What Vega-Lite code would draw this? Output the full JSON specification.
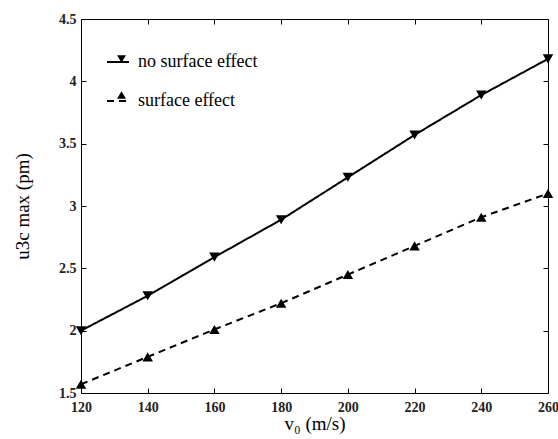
{
  "$schema": "https://vega.github.io/schema/vega-lite/v6.json",
  "autosize": "none",
  "width": 467,
  "height": 374,
  "padding": {"left": 81, "top": 19, "right": 10, "bottom": 46},
  "background": "white",
  "config": {
    "view": {"stroke": "black", "strokeWidth": 1},
    "font": "Liberation Serif"
  },
  "data": {
    "values": [
      {"v0": 120, "u": 2.0, "series": "no surface effect", "marker": "down"},
      {"v0": 140, "u": 2.28, "series": "no surface effect", "marker": "down"},
      {"v0": 160, "u": 2.59, "series": "no surface effect", "marker": "down"},
      {"v0": 180, "u": 2.89, "series": "no surface effect", "marker": "down"},
      {"v0": 200, "u": 3.23, "series": "no surface effect", "marker": "down"},
      {"v0": 220, "u": 3.57, "series": "no surface effect", "marker": "down"},
      {"v0": 240, "u": 3.89, "series": "no surface effect", "marker": "down"},
      {"v0": 260, "u": 4.18, "series": "no surface effect", "marker": "down"},
      {"v0": 120, "u": 1.57, "series": "surface effect", "marker": "up"},
      {"v0": 140, "u": 1.79, "series": "surface effect", "marker": "up"},
      {"v0": 160, "u": 2.01, "series": "surface effect", "marker": "up"},
      {"v0": 180, "u": 2.22, "series": "surface effect", "marker": "up"},
      {"v0": 200, "u": 2.45, "series": "surface effect", "marker": "up"},
      {"v0": 220, "u": 2.68, "series": "surface effect", "marker": "up"},
      {"v0": 240, "u": 2.91, "series": "surface effect", "marker": "up"},
      {"v0": 260, "u": 3.10, "series": "surface effect", "marker": "up"}
    ]
  },
  "resolve": {"axis": {"x": "independent", "y": "independent"}},
  "layer": [
    {
      "mark": {"type": "line", "color": "black", "strokeWidth": 2},
      "encoding": {
        "x": {"field": "v0", "type": "quantitative",
          "scale": {"domain": [120, 260], "nice": false, "zero": false},
          "axis": {"orient": "bottom", "values": [120,140,160,180,200,220,240,260], "title": "v₀ (m/s)",
            "grid": false, "domain": false, "tickSize": -5, "tickColor": "black", "labelPadding": 12, "labelFlush": false,
            "labelFont": "Liberation Serif", "labelFontWeight": "bold", "labelFontSize": 14, "labelColor": "#222",
            "titleFont": "Liberation Serif", "titleFontWeight": "normal", "titleFontSize": 19, "titleColor": "black", "titlePadding": 0}},
        "y": {"field": "u", "type": "quantitative",
          "scale": {"domain": [1.5, 4.5], "nice": false, "zero": false},
          "axis": {"orient": "left", "values": [1.5,2,2.5,3,3.5,4,4.5], "format": "~g", "title": "u3c max (pm)",
            "grid": false, "domain": false, "tickSize": -5, "tickColor": "black", "labelPadding": 10, "labelFlush": false,
            "labelFont": "Liberation Serif", "labelFontWeight": "bold", "labelFontSize": 14, "labelColor": "#222",
            "titleFont": "Liberation Serif", "titleFontWeight": "normal", "titleFontSize": 19, "titleColor": "black", "titlePadding": 26}},
        "strokeDash": {"field": "series", "type": "nominal",
          "scale": {"domain": ["no surface effect", "surface effect"], "range": [[1, 0], [7, 5]]},
          "legend": {"orient": "none", "legendX": 25, "legendY": 31, "title": null,
            "labelFont": "Liberation Serif", "labelFontSize": 18, "labelColor": "black", "labelLimit": 300,
            "symbolStrokeColor": "black", "symbolStrokeWidth": 2, "symbolSize": 484, "symbolType": "stroke",
            "rowPadding": 18, "labelOffset": 8}}
      }
    },
    {
      "mark": {"type": "point", "filled": true, "color": "black", "opacity": 1, "size": 110},
      "encoding": {
        "x": {"field": "v0", "type": "quantitative",
          "axis": {"orient": "top", "values": [120,140,160,180,200,220,240,260], "labels": false, "title": null,
            "grid": false, "domain": false, "tickSize": -5, "tickColor": "black"}},
        "y": {"field": "u", "type": "quantitative",
          "axis": {"orient": "right", "values": [1.5,2,2.5,3,3.5,4,4.5], "labels": false, "title": null,
            "grid": false, "domain": false, "tickSize": -5, "tickColor": "black"}},
        "shape": {"field": "marker", "type": "nominal",
          "scale": {"domain": ["down", "up"], "range": ["triangle-down", "triangle-up"]},
          "legend": {"orient": "none", "legendX": 31.5, "legendY": 31, "title": null,
            "labelExpr": "''", "labelFontSize": 18, "labelOffset": 0,
            "symbolFillColor": "black", "symbolStrokeColor": "black", "symbolStrokeWidth": 0, "symbolSize": 80, "symbolOpacity": 1,
            "rowPadding": 18}}
      }
    }
  ]
}
